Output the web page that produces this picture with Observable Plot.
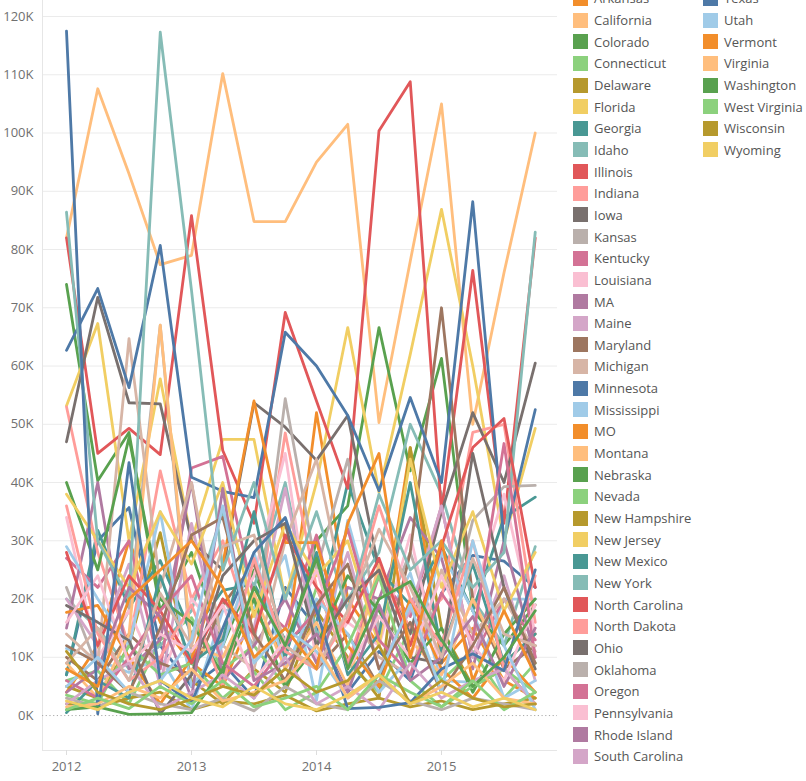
<!DOCTYPE html>
<html><head><meta charset="utf-8">
<script src="https://cdn.jsdelivr.net/npm/d3@7"></script>
<script src="https://cdn.jsdelivr.net/npm/@observablehq/plot@0.6"></script>
<style>
body{margin:0;background:#fff;overflow:hidden;font-family:"Open Sans",sans-serif;}
#wrap{position:relative;width:806px;height:781px;overflow:hidden;}
#chart{position:absolute;left:0;top:0;}
.lg{position:absolute;display:flex;align-items:center;height:16px;font-size:13px;color:#555;white-space:nowrap;}
.lg .sw{width:15px;height:15px;margin-right:6px;flex:none;}
</style></head><body><div id="wrap"><div id="chart"></div><div id="legend"></div></div>
<script>
// Categories
const states = ["Alabama","Arizona","Arkansas","California","Colorado","Connecticut","Delaware","Florida","Georgia","Idaho","Illinois","Indiana","Iowa","Kansas","Kentucky","Louisiana","MA","Maine","Maryland","Michigan","Minnesota","Mississippi","MO","Montana","Nebraska","Nevada","New Hampshire","New Jersey","New Mexico","New York","North Carolina","North Dakota","Ohio","Oklahoma","Oregon","Pennsylvania","Rhode Island","South Carolina","South Dakota","Tennessee","Texas","Utah","Vermont","Virginia","Washington","West Virginia","Wisconsin","Wyoming"];
const quarters = ["2012 Q1","2012 Q2","2012 Q3","2012 Q4","2013 Q1","2013 Q2","2013 Q3","2013 Q4","2014 Q1","2014 Q2","2014 Q3","2014 Q4","2015 Q1","2015 Q2","2015 Q3","2015 Q4"];
const yearLabels = ["2012","2013","2014","2015"];
const yearTickQuarters = [0,4,8,12];
const yTicks = [0,10,20,30,40,50,60,70,80,90,100,110,120]; // thousands

// Series values (thousands) per state, by quarter
const alabama = [7, 30, 35.7, 12, 5, 9, 3, 22, 15, 4, 11, 6, 21, 27.5, 26.5, 22];
const arizona = [11.5, 9.5, 7.4, 10, 0.9, 18, 18.5, 27.5, 2.6, 33.5, 14, 24.5, 6, 5.7, 20, 20];
const arkansas = [4, 12, 30, 16, 9, 5, 18, 10, 52, 20, 12, 46, 9, 15, 6, 3];
const california = [82, 107.6, 93, 77.4, 79, 110.2, 84.8, 84.8, 95, 101.5, 50.3, 78, 105, 50, 76, 100];
const colorado = [74, 40.3, 48.6, 18, 28, 12, 25, 10, 30, 36, 66.6, 42, 61.3, 18, 12, 19];
const connecticut = [6, 7.7, 2, 13, 16.8, 8, 12, 5, 22, 9, 4, 15, 6, 11, 3, 9];
const delaware = [5, 3, 12, 31.4, 6, 2, 8, 4, 18, 10, 3, 46, 15, 5, 8, 2];
const florida = [53.2, 67.3, 30, 57.8, 30, 47.4, 47.4, 20, 40, 66.6, 38.3, 62, 86.9, 60, 30, 49.3];
const georgia = [7, 31.8, 18.5, 26.6, 14, 21.5, 22.6, 13, 16, 40, 25, 19, 29, 18, 34, 37.5];
const idaho = [20, 15, 8, 12, 18, 35, 22, 40, 14, 20, 28, 50, 38, 20, 12, 29];
const illinois = [82, 45, 49.3, 44.8, 85.8, 45.5, 33, 69.2, 54, 39, 100.4, 108.8, 35, 76.4, 33, 82];
const indiana = [53, 28, 12, 42, 20, 30, 13, 48.5, 22, 9, 25, 15, 20, 48.6, 50, 16];
const iowa = [47, 71.8, 53.7, 53.5, 30, 25, 53.7, 49.5, 43.8, 51.5, 25, 14, 35, 52, 40, 60.5];
const kansas = [22, 8, 18, 67, 10, 20, 12, 54.4, 25, 44, 15, 28, 12, 33.5, 39.3, 39.5];
const kentucky = [27, 22, 30, 8, 42.5, 44.5, 20, 15, 31, 8, 24, 17, 36, 10, 20, 13];
const louisiana = [34, 10, 18, 6, 20, 14, 24, 45, 9, 16, 12, 31, 7, 20, 38, 14];
const ma = [15, 40, 8, 13, 40, 6, 12, 20, 9, 22, 20, 34, 27, 8, 30, 10];
const maine = [20, 12, 26, 5, 33, 10, 15, 39, 12, 28, 8, 18, 36, 10, 24, 6];
const maryland = [10, 6, 14, 9, 7, 19, 26, 12, 8, 14, 5, 28, 70, 20, 8, 12];
const michigan = [14, 9, 64.7, 22, 40, 12, 8, 30, 44, 18, 10, 7, 25, 14, 20, 11];
const minnesota = [62.7, 73.3, 56.3, 80.7, 40.9, 38.5, 37.4, 65.8, 60, 51.5, 38.6, 54.6, 40, 88.2, 30, 52.5];
const mississippi = [29, 20, 12, 35, 5, 12, 28, 8, 20, 14, 4, 10, 28, 18, 3, 6];
const mo = [17.7, 18.9, 10, 2, 9.8, 26, 54, 29.7, 29.7, 12, 5, 20, 8, 3, 10, 4];
const montana = [9, 3, 14, 67, 12, 10, 21, 8, 16, 5, 26, 13, 7, 20, 9, 14];
const nebraska = [40, 25, 47.7, 20, 16, 7, 20, 5, 12, 24, 18, 9, 15, 4, 14, 20];
const nevada = [3.5, 2, 12, 7, 9, 3, 7.5, 1, 4, 12, 24, 6, 1.5, 5, 8, 4];
const newHampshire = [2, 1.5, 3, 4, 1, 2.5, 2, 3.5, 0.8, 2, 3, 1.5, 2.5, 1, 2, 3];
const newJersey = [38, 30, 22, 35, 26, 40, 17, 33, 24, 30, 12, 44, 22, 35, 18, 28];
const newMexico = [0.5, 6, 3, 24, 9, 13, 35, 10, 28, 7, 14, 40, 11, 26, 9, 14];
const newYork = [86.4, 30, 20, 117.3, 73, 25, 40, 20, 35, 18, 38, 25, 30, 22, 28, 83];
const northCarolina = [28, 12, 24, 18, 9, 20, 14, 31, 22, 16, 27, 12, 29, 46, 51, 22];
const northDakota = [36, 14, 6, 10, 19, 5, 27, 11, 8, 17, 36, 20, 12, 30, 8, 24];
const ohio = [18.9, 16, 12.9, 0.3, 7, 24, 30, 33, 12, 20, 25, 10, 9, 45, 22, 8];
const oklahoma = [3, 1.5, 4, 2, 1, 3, 0.8, 5, 2, 1, 6, 2.5, 1, 3, 2, 1];
const oregon = [6, 3, 10, 18, 24, 9, 5, 12, 18, 32, 13, 7, 21, 13, 46.7, 10];
const pennsylvania = [16, 24, 9, 14, 11, 19, 6, 13, 25, 8, 17, 10, 24, 12, 6, 19];
const rhodeIsland = [4, 8, 22, 17, 3, 39, 6, 9, 14, 4, 19, 6, 10, 17, 5, 15];
const southCarolina = [2, 6, 9, 1, 4, 7, 3, 10, 2, 5, 1, 9, 3, 6, 8, 2];
const southDakota = [12, 9, 4, 15, 31, 34, 14, 6, 19, 26, 8, 16, 4, 12, 22, 9];
const tennessee = [9, 15, 6, 21, 12, 29, 31, 12, 8, 18, 32, 22, 10, 27, 14, 12];
const texas = [117.5, 0.3, 43.4, 6, 2.2, 15, 28, 34, 18, 1.2, 1.4, 2.2, 8, 10.6, 7.7, 25];
const utah = [5, 10, 4, 6, 13, 36, 9, 15, 11, 3, 7, 19, 4, 30, 12, 1];
const vermont = [8, 5, 20, 25, 30, 22, 10, 15, 8, 33, 45, 10, 30, 6, 18, 7];
const virginia = [1.5, 2, 5, 3, 8, 2.5, 4, 6, 12, 3, 7, 2, 5, 9, 3, 2];
const washington = [1, 1.5, 0.2, 0.3, 0.5, 8, 22, 12, 27, 8, 20, 23, 13, 5, 10, 18];
const westVirginia = [1, 3, 1.2, 5, 2, 6, 1.5, 3, 5, 1, 7, 4, 1.5, 6, 1, 4];
const wisconsin = [11, 4, 2, 1, 2.8, 5, 3.5, 8, 4, 6, 12, 2, 6, 3, 1.5, 2];
const wyoming = [2.5, 1, 4, 6, 3, 1.5, 5, 2, 1, 3.5, 7, 2, 4, 1.5, 3, 1];

const seriesList = [alabama, arizona, arkansas, california, colorado, connecticut, delaware, florida, georgia, idaho, illinois, indiana, iowa, kansas, kentucky, louisiana, ma, maine, maryland, michigan, minnesota, mississippi, mo, montana, nebraska, nevada, newHampshire, newJersey, newMexico, newYork, northCarolina, northDakota, ohio, oklahoma, oregon, pennsylvania, rhodeIsland, southCarolina, southDakota, tennessee, texas, utah, vermont, virginia, washington, westVirginia, wisconsin, wyoming];

// Style: Tableau 20 palette, cycled over the states
const tableau20 = ["#4e79a7","#a0cbe8","#f28e2b","#ffbe7d","#59a14f","#8cd17d","#b6992d","#f1ce63","#499894","#86bcb6","#e15759","#ff9d9a","#79706e","#bab0ac","#d37295","#fabfd2","#b07aa1","#d4a6c8","#9d7660","#d7b5a6"];
const colorRange = states.map((s, i) => tableau20[i % tableau20.length]);

const rows = [];
states.forEach((s, si) => seriesList[si].forEach((v, qi) => rows.push({state: s, q: qi, quarter: quarters[qi], sales: v})));

const xDomain = [-0.768, 15.712];
const yDomain = [-6.0, 122.75];

const chart = Plot.plot({
  width: 560, height: 781,
  marginLeft: 42, marginRight: 3, marginTop: 0, marginBottom: 31,
  style: {fontFamily: "'Open Sans', sans-serif", fontSize: "13px", color: "#707070", background: "transparent"},
  x: {domain: xDomain, label: null},
  y: {domain: yDomain, label: null},
  color: {domain: states, range: colorRange},
  marks: [
    Plot.gridY(yTicks.filter(d => d !== 0), {stroke: "#ebebeb", strokeOpacity: 1}),
    Plot.ruleX([xDomain[0]], {stroke: "#e6e6e6"}),
    Plot.ruleY([yDomain[0]], {stroke: "#e6e6e6"}),
    Plot.ruleY([0], {stroke: "#aaa", strokeDasharray: "1.2,2.5"}),
    Plot.axisY(yTicks, {tickSize: 0, tickPadding: 9, tickFormat: d => d + "K", fill: "#707070", fontSize: 13}),
    Plot.axisX(yearTickQuarters, {tickSize: 5, tickPadding: 6, stroke: "#ddd", fill: "#707070", tickFormat: (d, i) => yearLabels[i], fontSize: 13}),
    Plot.line(rows, {x: "q", y: "sales", z: "state", stroke: "state", strokeWidth: 2.8, strokeLinejoin: "round", strokeLinecap: "round"})
  ]
});
document.getElementById("chart").appendChild(chart);

// Legend (scrolled list, two columns); only entries within view are drawn
const legend = document.getElementById("legend");
const col1Count = 38;
const rowStep = 21.65;
const rowOffset = -44.9;
states.forEach((s, i) => {
  const col = i < col1Count ? 0 : 1;
  const row = col === 0 ? i : i - col1Count;
  const cy = rowOffset + rowStep * row;
  if (cy < -8) return;
  const d = document.createElement("div");
  d.className = "lg";
  d.style.left = (col === 0 ? 573 : 703) + "px";
  d.style.top = (cy - 8) + "px";
  const sw = document.createElement("div");
  sw.className = "sw";
  sw.style.background = colorRange[i];
  const t = document.createElement("span");
  t.textContent = s;
  d.appendChild(sw); d.appendChild(t);
  legend.appendChild(d);
});
</script></body></html>
